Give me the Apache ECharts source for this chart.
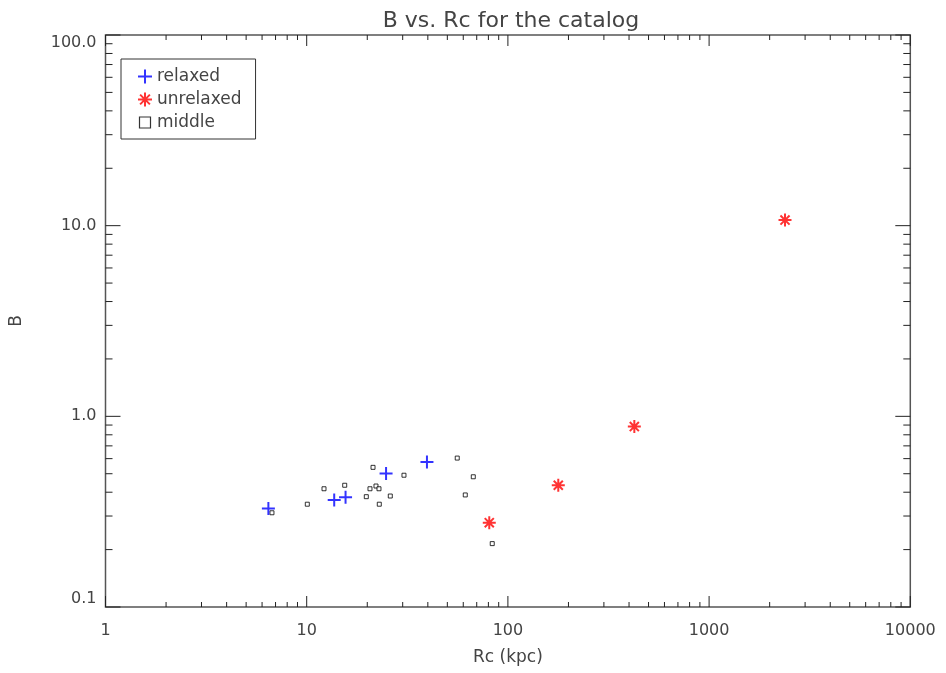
<!DOCTYPE html>
<html>
<head>
<meta charset="utf-8">
<script src="https://cdn.jsdelivr.net/npm/echarts@6/dist/echarts.min.js"></script>
<style>
  html, body { margin: 0; padding: 0; background: #fff; }
  #chart { width: 946px; height: 673px; }
</style>
</head>
<body>
<div id="chart"></div>
<script>
// data (Rc in kpc, B)
var relaxedRc = [6.45, 13.7, 15.6, 24.8, 39.6];
var relaxedB  = [0.329, 0.364, 0.376, 0.502, 0.576];

var unrelaxedRc = [80.8, 178, 425, 2384];
var unrelaxedB  = [0.277, 0.435, 0.884, 10.7];

var middleRc = [6.72, 10.07, 12.19, 15.45, 21.36, 20.63, 22.1, 22.87, 19.78, 26.03, 22.95, 30.44, 56.0, 67.3, 61.4, 83.6];
var middleB  = [0.312, 0.346, 0.417, 0.435, 0.540, 0.417, 0.431, 0.417, 0.379, 0.382, 0.346, 0.491, 0.604, 0.482, 0.387, 0.215];

var xTicks = [1, 10, 100, 1000, 10000];
var yTicks = [0.1, 1, 10, 100];

function pairs(xs, ys) {
  var out = [];
  for (var i = 0; i < xs.length; i++) out.push([xs[i], ys[i]]);
  return out;
}

// IDL style box ticks: majors at the decades, minors at 2..9 of each decade
function tickItems() {
  var out = [];
  var i, k;
  for (i = 0; i < xTicks.length; i++) {
    out.push([xTicks[i], 1, 0, 11]);
    if (i < xTicks.length - 1) for (k = 2; k <= 9; k++) out.push([xTicks[i] * k, 1, 0, 5]);
  }
  for (i = 0; i < yTicks.length; i++) {
    out.push([1, yTicks[i], 1, 15]);
    if (i < yTicks.length - 1) for (k = 2; k <= 9; k++) out.push([1, yTicks[i] * k, 1, 7]);
  }
  return out;
}

var FONT = 'DejaVu Sans';
var TXT = '#444';
var TICK = '#222';

var plusPath = 'path://M5,0L5,10M0,5L10,5';
var starPath = 'path://M5,0L5,10M0,5L10,5M1.5,1.5L8.5,8.5M8.5,1.5L1.5,8.5';

var chart = echarts.init(document.getElementById('chart'));

var option = {
  backgroundColor: '#fff',
  animation: false,
  title: {
    text: 'B vs. Rc for the catalog',
    left: 506, top: 5, textAlign: 'center',
    textStyle: { fontFamily: FONT, fontSize: 22, fontWeight: 'normal', color: TXT }
  },
  legend: {
    orient: 'vertical',
    left: 121, top: 59,
    padding: [9, 14, 8, 16],
    itemGap: 6,
    itemWidth: 14, itemHeight: 14,
    borderColor: '#333', borderWidth: 1,
    textStyle: { fontFamily: FONT, fontSize: 17, color: TXT },
    data: [
      { name: 'relaxed' },
      { name: 'unrelaxed' },
      { name: 'middle', icon: 'path://M0,0M14,14M1.5,1.5L12.5,1.5L12.5,12.5L1.5,12.5Z', itemStyle: { color: '#fff', borderColor: '#000', borderWidth: 1.2 } }
    ]
  },
  grid: {
    left: 105.5, right: 35.7, top: 35, bottom: 66,
    show: true, borderColor: '#555', borderWidth: 1.5,
    outerBoundsMode: 'none'
  },
  xAxis: {
    type: 'log', position: 'bottom', min: 1, max: 10000, logBase: 10,
    name: 'Rc (kpc)', nameLocation: 'middle', nameGap: 42,
    nameTextStyle: { fontFamily: FONT, fontSize: 17, color: TXT },
    axisLine: { show: false, onZero: false }, splitLine: { show: false },
    axisTick: { show: false },
    axisLabel: { margin: 16, fontFamily: FONT, fontSize: 16, color: TXT,
      formatter: function (v) { return String(Math.round(v)); } }
  },
  yAxis: {
    type: 'log', position: 'left', min: 0.1, max: 100, logBase: 10,
    name: 'B', nameLocation: 'middle', nameGap: 80,
    nameTextStyle: { fontFamily: FONT, fontSize: 17, color: TXT },
    axisLine: { show: false, onZero: false }, splitLine: { show: false },
    axisTick: { show: false },
    axisLabel: { margin: 9, fontFamily: FONT, fontSize: 16, color: TXT,
      verticalAlignMaxLabel: 'top', verticalAlignMinLabel: 'bottom',
      formatter: function (v) { return v.toFixed(1); } }
  },
  series: [
    {
      name: 'relaxed', type: 'scatter',
      symbol: plusPath, symbolSize: 13,
      itemStyle: { color: 'rgba(0,0,0,0)', borderColor: '#0000ff', borderWidth: 2 },
      data: pairs(relaxedRc, relaxedB),
      z: 3
    },
    {
      name: 'unrelaxed', type: 'scatter',
      symbol: starPath, symbolSize: 13,
      itemStyle: { color: 'rgba(0,0,0,0)', borderColor: '#ff0000', borderWidth: 2 },
      data: pairs(unrelaxedRc, unrelaxedB),
      z: 3
    },
    {
      name: 'middle', type: 'scatter',
      symbol: 'rect', symbolSize: 4,
      itemStyle: { color: '#fff', borderColor: '#000', borderWidth: 1 },
      data: pairs(middleRc, middleB),
      z: 2
    },
    {
      name: 'ticks', type: 'custom',
      silent: true, z: 4,
      data: tickItems(),
      renderItem: function (params, api) {
        var len = api.value(3);
        var st = { stroke: TICK, lineWidth: 1 };
        var a, b;
        if (api.value(2) === 0) {
          a = api.coord([api.value(0), 0.1]);
          b = api.coord([api.value(0), 100]);
          return { type: 'group', children: [
            { type: 'line', shape: { x1: a[0], y1: a[1], x2: a[0], y2: a[1] - len }, style: st },
            { type: 'line', shape: { x1: b[0], y1: b[1], x2: b[0], y2: b[1] + len }, style: st }
          ] };
        }
        a = api.coord([1, api.value(1)]);
        b = api.coord([10000, api.value(1)]);
        return { type: 'group', children: [
          { type: 'line', shape: { x1: a[0], y1: a[1], x2: a[0] + len, y2: a[1] }, style: st },
          { type: 'line', shape: { x1: b[0], y1: b[1], x2: b[0] - len, y2: b[1] }, style: st }
        ] };
      }
    }
  ]
};

option && chart.setOption(option);
</script>
</body>
</html>
